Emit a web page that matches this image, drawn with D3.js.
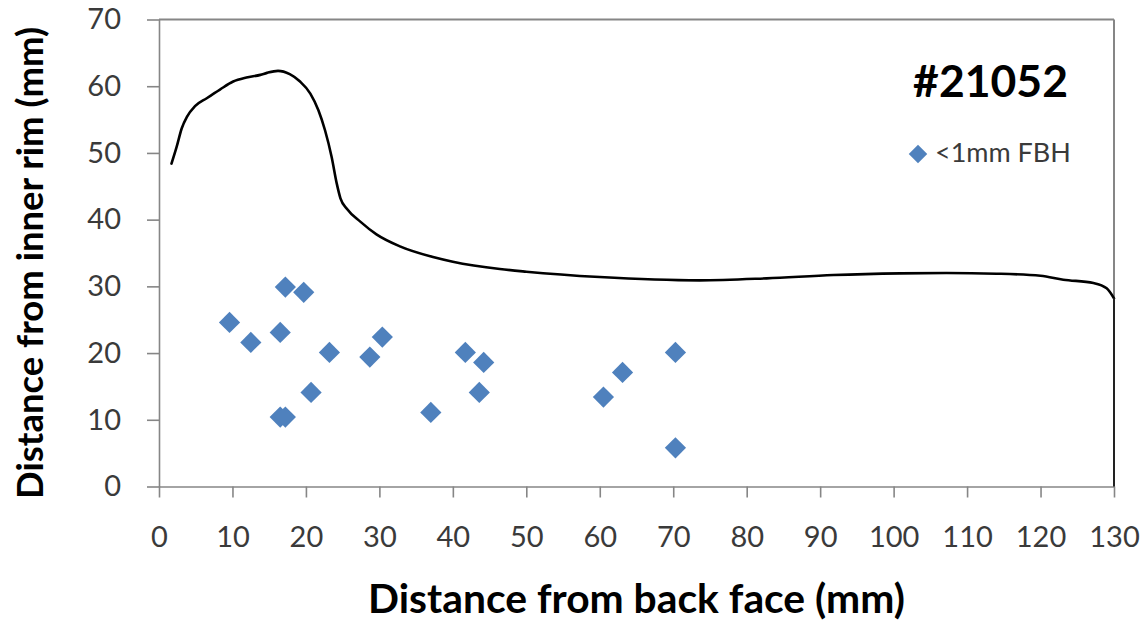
<!DOCTYPE html>
<html>
<head>
<meta charset="utf-8">
<script src="https://cdn.jsdelivr.net/npm/d3@7"></script>
<style>
  html, body { margin: 0; padding: 0; background: #ffffff; }
  svg { display: block; }
</style>
</head>
<body>
<div id="chart"></div>
<script>
// ---- data ----
const chartTitle = "#21052";
const seriesName = "<1mm FBH";
const xTitle = "Distance from back face (mm)";
const yTitle = "Distance from inner rim (mm)";
const xTicks = [0, 10, 20, 30, 40, 50, 60, 70, 80, 90, 100, 110, 120, 130];
const yTicks = [0, 10, 20, 30, 40, 50, 60, 70];

// flaw positions (<1mm flat-bottom holes)
const fbhX = [9.6, 12.5, 16.5, 17.2, 19.7, 16.5, 17.2, 20.7, 23.2, 28.7, 30.4, 37.0, 41.7, 44.2, 43.6, 60.5, 63.1, 70.3, 70.3];
const fbhY = [24.6, 21.6, 23.1, 29.9, 29.1, 10.4, 10.4, 14.1, 20.1, 19.4, 22.4, 11.1, 20.1, 18.6, 14.1, 13.4, 17.1, 20.1, 5.8];

// part contour (inner rim profile); last point closes down to the axis at x=130
const contourX = [1.7, 2.4, 3.1, 3.8, 4.9, 6.5, 8.3, 10.1, 11.9, 13.8, 14.7, 16.2, 17.8, 19.2, 20.6, 21.7, 22.6, 23.5, 24.2, 24.7, 25.6, 27.4, 29.6, 32.8, 37.3, 40, 46.4, 50, 60, 73.6, 82.7, 91.8, 100.9, 107.2, 114, 120, 123.1, 127.2, 129, 130, 130];
const contourY = [48.4, 50.9, 53.7, 55.4, 57.0, 58.2, 59.5, 60.7, 61.3, 61.7, 62.0, 62.3, 61.8, 60.7, 58.9, 56.4, 53.4, 49.4, 45.4, 43.2, 41.6, 39.7, 37.8, 36.0, 34.4, 33.7, 32.6, 32.2, 31.4, 30.9, 31.2, 31.7, 31.95, 32.0, 31.9, 31.6, 31.0, 30.5, 29.7, 28.2, 0];

// ---- layout ----
const W = 1146, H = 623;
const L = 159, R = 1114, T = 19.5, B = 486.5;
const axisColor = "#868686";
const textColor = "#3a3a3a";
const markColor = "#4F81BD";
const fontFam = "Lato, 'Open Sans', 'DejaVu Sans', sans-serif";

const svg = d3.select("#chart").append("svg").attr("width", W).attr("height", H);

const x = d3.scaleLinear().domain([0, 130]).range([L, R]);
const y = d3.scaleLinear().domain([0, 70]).range([B, T]);

// plot area border (top & right)
svg.append("line").attr("x1", L).attr("x2", R).attr("y1", T).attr("y2", T)
  .attr("stroke", axisColor).attr("stroke-width", 2);
svg.append("line").attr("x1", R).attr("x2", R).attr("y1", T).attr("y2", B)
  .attr("stroke", axisColor).attr("stroke-width", 2);

// axes
const xAxis = svg.append("g").attr("transform", `translate(0,${B})`)
  .call(d3.axisBottom(x).tickValues(xTicks).tickSize(11).tickSizeOuter(0).tickPadding(29));
const yAxis = svg.append("g").attr("transform", `translate(${L},0)`)
  .call(d3.axisLeft(y).tickValues(yTicks).tickSize(12).tickSizeOuter(0).tickPadding(26));

[xAxis, yAxis].forEach(g => {
  g.select(".domain").attr("stroke", axisColor).attr("stroke-width", 1.6);
  g.selectAll(".tick line").attr("stroke", axisColor).attr("stroke-width", 1.6);
  g.selectAll(".tick text").attr("fill", textColor)
    .style("font-family", fontFam).style("font-size", "29px");
});

// contour line: smooth profile + straight closing drop at the right edge
const pts = contourX.map((v, i) => [v, contourY[i]]);
const smoothPts = pts.slice(0, pts.length - 1);
const dropPts = pts.slice(pts.length - 2);
svg.append("path")
  .attr("d", d3.line().x(d => x(d[0])).y(d => y(d[1]))
    .curve(d3.curveMonotoneX)(smoothPts))
  .attr("fill", "none").attr("stroke", "#000").attr("stroke-width", 2.6)
  .attr("stroke-linejoin", "round").attr("stroke-linecap", "round");
svg.append("path")
  .attr("d", d3.line().x(d => x(d[0])).y(d => y(d[1]))(dropPts))
  .attr("fill", "none").attr("stroke", "#222").attr("stroke-width", 2);

// diamonds
const diamond = d3.symbol().type(d3.symbolSquare).size(225);
svg.append("g").selectAll("path")
  .data(fbhX.map((v, i) => [v, fbhY[i]]))
  .join("path")
  .attr("d", diamond)
  .attr("transform", d => `translate(${x(d[0])},${y(d[1])}) rotate(45)`)
  .attr("fill", markColor);

// helper to fit text to a target width
function fitWidth(sel, target) {
  const w = sel.node().getComputedTextLength();
  const fs = parseFloat(sel.style("font-size"));
  sel.style("font-size", (fs * target / w) + "px");
}

// title
const t = svg.append("text").text(chartTitle)
  .attr("x", 1068).attr("y", 97).attr("text-anchor", "end")
  .attr("fill", "#000").style("font-family", fontFam).style("font-weight", "bold")
  .style("font-size", "45px");
fitWidth(t, 155);

// legend
svg.append("path").attr("d", d3.symbol().type(d3.symbolSquare).size(170))
  .attr("transform", "translate(918,154) rotate(45)").attr("fill", markColor);
const lg = svg.append("text").text(seriesName)
  .attr("x", 935).attr("y", 162)
  .attr("fill", textColor).style("font-family", fontFam).style("font-size", "24px");
fitWidth(lg, 136);

// axis titles
const xt = svg.append("text").text(xTitle)
  .attr("x", (L + R) / 2).attr("y", 613).attr("text-anchor", "middle")
  .attr("fill", "#000").style("font-family", fontFam).style("font-weight", "bold")
  .style("font-size", "32px");
fitWidth(xt, 537);

const yt = svg.append("text").text(yTitle)
  .attr("transform", `translate(43,${(T + B) / 2 + 10}) rotate(-90)`)
  .attr("text-anchor", "middle")
  .attr("fill", "#000").style("font-family", fontFam).style("font-weight", "bold")
  .style("font-size", "32px");
fitWidth(yt, 472);
</script>
</body>
</html>
